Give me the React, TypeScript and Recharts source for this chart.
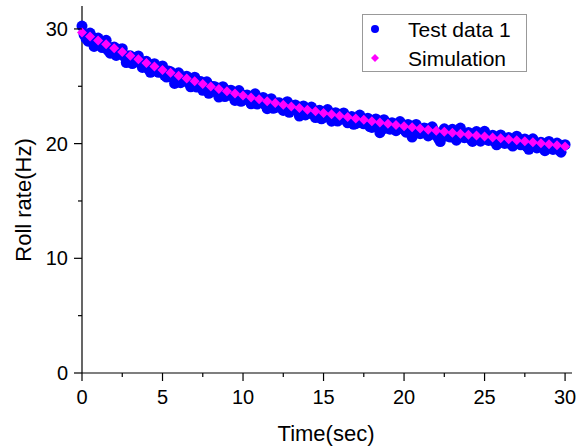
import React from 'react';
import { ScatterChart, Scatter, XAxis, YAxis } from 'recharts';

// test data (Hz): set A read every 0.25 s from t = 0, set B every 0.25 s from t = 0.125
const TEST_STEP = 0.25;
const testRateA = [
  30.25, 29.17, 29.64, 28.47, 29.2, 28.38, 29.01, 27.89, 28.42, 27.85, 28.28, 27.07,
  27.66, 27.1, 27.65, 26.64, 27.18, 26.22, 26.97, 26.22, 26.77, 25.8, 26.27, 25.25,
  26.17, 25.5, 25.88, 24.96, 25.79, 25.12, 24.65, 25.39, 24.58, 24.97, 24.06, 24.96,
  24.31, 24.66, 23.77, 24.63, 23.84, 24.25, 23.47, 24.34, 23.66, 24.03, 23.05, 23.92,
  23.14, 23.56, 22.89, 23.66, 22.94, 23.37, 22.4, 23.28, 22.61, 23.19, 22.27, 22.9,
  22.28, 22.97, 21.96, 22.7, 22.14, 22.68, 21.82, 22.36, 21.75, 22.49, 21.73, 22.22,
  21.41, 22.15, 20.95, 22.09, 21.34, 21.83, 21.13, 21.92, 21.22, 21.67, 20.57, 21.67,
  20.87, 21.37, 20.67, 21.47, 20.73, 20.18, 21.29, 20.64, 21.25, 20.3, 21.36, 20.52,
  20.98, 20.19, 21.05, 20.21, 21.07, 20.28, 20.74, 19.9, 20.76, 20.02, 20.53, 19.79,
  20.65, 19.9, 20.41, 19.51, 20.42, 19.62, 20.13, 19.38, 20.19, 19.49, 20.05, 19.25,
  19.91,
];
const testRateB = [
  29.51, 28.93, 29.31, 28.74, 28.77, 28.85, 28.13, 28.36, 27.69, 28.22, 27.6, 27.64,
  26.98, 27.53, 27.02, 27.11, 26.5, 26.85, 26.35, 26.4, 25.96, 26.34, 25.76, 25.94,
  25.31, 25.79, 25.27, 25.4, 24.93, 25.41, 24.95, 24.39, 24.98, 24.47, 24.66, 24.11,
  24.61, 24.12, 24.28, 23.69, 24.2, 23.76, 23.93, 23.45, 23.92, 23.39, 23.56, 23.08,
  23.55, 23.13, 23.3, 22.73, 23.31, 22.89, 23.02, 22.5, 22.98, 22.56, 22.69, 22.17,
  22.7, 22.29, 22.48, 21.97, 22.51, 22.05, 22.19, 21.68, 22.22, 21.81, 22.0, 21.49,
  22.03, 21.53, 21.22, 21.72, 21.26, 21.71, 21.3, 21.45, 21.0, 21.5, 20.85, 21.25,
  20.95, 21.3, 20.9, 21.1, 20.46, 20.86, 21.07, 20.57, 20.88, 21.03, 20.59, 20.75,
  20.41, 20.82, 20.53, 20.74, 20.4, 20.51, 20.17, 20.53, 20.24, 20.35, 19.96, 20.42,
  20.08, 20.18, 19.74, 20.19, 19.85, 20.0, 19.61, 20.01, 19.67, 19.82, 19.43, 19.83,
];

// simulation output (Hz), every 0.5 s from t = 0
const SIM_STEP = 0.5;
const simRate = [
  29.7, 29.34, 29.0, 28.66, 28.32, 27.98, 27.66, 27.35, 27.03, 26.72, 26.42, 26.17,
  25.92, 25.68, 25.44, 25.2, 24.98, 24.76, 24.56, 24.37, 24.19, 24.02, 23.86, 23.7,
  23.54, 23.39, 23.24, 23.1, 22.96, 22.82, 22.68, 22.56, 22.44, 22.32, 22.2, 22.08,
  21.96, 21.85, 21.74, 21.63, 21.52, 21.42, 21.32, 21.22, 21.13, 21.04, 20.95, 20.86,
  20.78, 20.7, 20.62, 20.54, 20.46, 20.38, 20.3, 20.21, 20.12, 20.03, 19.94, 19.85,
  19.76,
];

const xTicks = [0, 2.5, 5, 7.5, 10, 12.5, 15, 17.5, 20, 22.5, 25, 27.5, 30];
const yTicks = [0, 5, 10, 15, 20, 25, 30];

const testData = [
  ...testRateA.map((v, i) => ({ t: i * TEST_STEP, v })),
  ...testRateB.map((v, i) => ({ t: i * TEST_STEP + TEST_STEP / 2, v })),
];
const simData = simRate.map((v, i) => ({ t: i * SIM_STEP, v }));

const FONT = '"Liberation Sans", Arial, sans-serif';
const BLUE = '#0000FF';
const MAGENTA = '#FF00FF';

const Dot = (props: any) => <circle cx={props.cx} cy={props.cy} r={5.5} fill={BLUE} />;

const Diamond = (props: any) => {
  const { cx, cy } = props;
  const s = 5;
  return <polygon points={`${cx},${cy - s} ${cx + s},${cy} ${cx},${cy + s} ${cx - s},${cy}`} fill={MAGENTA} />;
};

const XTick = ({ x, y, payload }: any) => {
  const major = payload.value % 5 === 0;
  return (
    <g>
      <line x1={x} x2={x} y1={y} y2={y + (major ? 8 : 4)} stroke="#000" strokeWidth={1.2} />
      {major && (
        <text x={x} y={y + 30.5} textAnchor="middle" fontSize={20} fontFamily={FONT} fill="#000">
          {payload.value}
        </text>
      )}
    </g>
  );
};

const YTick = ({ x, y, payload }: any) => {
  const major = payload.value % 10 === 0;
  return (
    <g>
      <line x1={x} x2={x - (major ? 8 : 4)} y1={y} y2={y} stroke="#000" strokeWidth={1.2} />
      {major && (
        <text x={x - 14} y={y + 7} textAnchor="end" fontSize={20} fontFamily={FONT} fill="#000">
          {payload.value}
        </text>
      )}
    </g>
  );
};

const LegendBox = () => (
  <svg width={165} height={58} style={{ position: 'absolute', left: 362, top: 14 }}>
    <rect x={0.5} y={0.5} width={164} height={57} fill="#fff" stroke="#999" />
    <circle cx={13} cy={15} r={4} fill={BLUE} />
    <polygon points="13,40 17,44 13,48 9,44" fill={MAGENTA} />
    <text x={46} y={22.5} fontSize={21} fontFamily={FONT} fill="#000">Test data 1</text>
    <text x={46} y={51.5} fontSize={21} fontFamily={FONT} fill="#000">Simulation</text>
  </svg>
);

export default function App() {
  return (
    <div style={{ position: 'absolute', left: 0, top: 0, width: 588, height: 448, background: '#fff' }}>
      <ScatterChart width={588} height={448} margin={{ top: 6, right: 16, bottom: 0, left: 0 }}>
        <XAxis
          type="number"
          dataKey="t"
          domain={[0, 30.43]}
          ticks={xTicks}
          interval={0}
          tick={<XTick />}
          tickLine={false}
          tickSize={0}
          tickMargin={0}
          height={75}
          axisLine={{ stroke: '#000', strokeWidth: 1.2 }}
        />
        <YAxis
          type="number"
          dataKey="v"
          domain={[0, 32]}
          ticks={yTicks}
          interval={0}
          tick={<YTick />}
          tickLine={false}
          tickSize={0}
          tickMargin={0}
          width={82}
          axisLine={{ stroke: '#000', strokeWidth: 1.2 }}
        />
        <Scatter name="Test data 1" data={testData} shape={Dot} isAnimationActive={false} />
        <Scatter name="Simulation" data={simData} shape={Diamond} isAnimationActive={false} />
        <text x={326} y={441} textAnchor="middle" fontSize={22} fontFamily={FONT} fill="#000">
          Time(sec)
        </text>
        <text
          x={31}
          y={200}
          textAnchor="middle"
          fontSize={22}
          fontFamily={FONT}
          fill="#000"
          transform="rotate(-90 31 200)"
        >
          Roll rate(Hz)
        </text>
      </ScatterChart>
      <LegendBox />
    </div>
  );
}
